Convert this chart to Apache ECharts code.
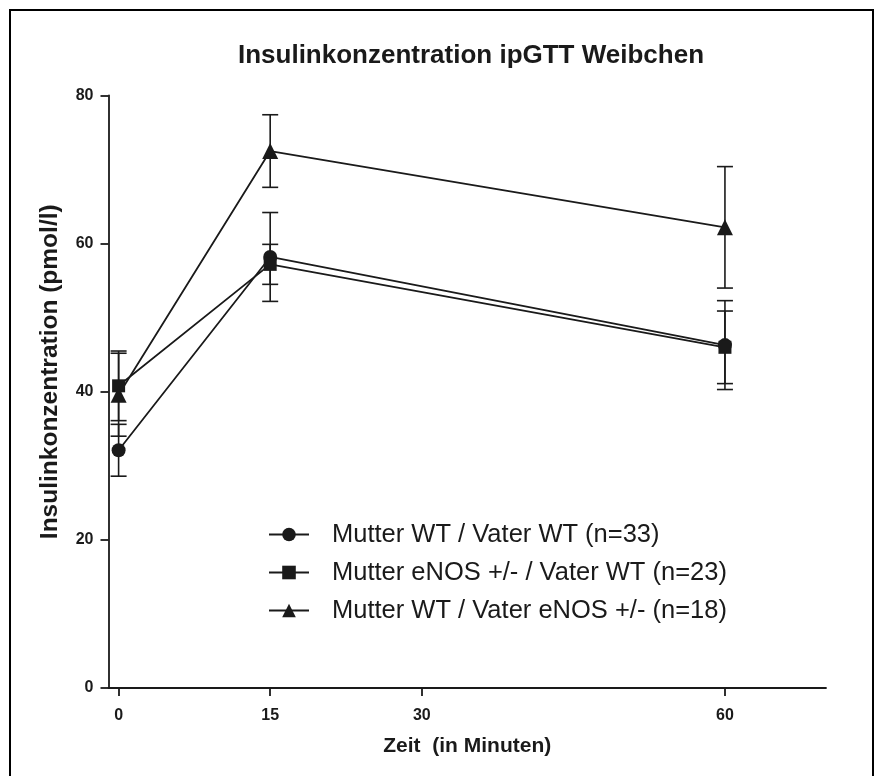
<!DOCTYPE html>
<html>
<head>
<meta charset="utf-8">
<script src="https://cdn.jsdelivr.net/npm/echarts@6/dist/echarts.min.js"></script>
<style>
html,body{margin:0;padding:0;background:#fff;}
#chart{width:882px;height:776px;}
</style>
</head>
<body>
<div id="chart"></div>
<script>
// ---- data ----
const titleText = 'Insulinkonzentration ipGTT Weibchen';
const xName = 'Zeit  (in Minuten)';
const yName = 'Insulinkonzentration (pmol/l)';
const times = [0, 15, 60];
const xTicks = [0, 15, 30, 60];
const yTicks = [0, 20, 40, 60, 80];
const seriesNames = [
  'Mutter WT / Vater WT (n=33)',
  'Mutter eNOS +/- / Vater WT (n=23)',
  'Mutter WT / Vater eNOS +/- (n=18)'
];
const seriesSymbols = ['circle', 'rect', 'triangle'];
const circleMean = [32.1, 58.2, 46.3];
const circleSem = [3.5, 6.0, 6.0];
const squareMean = [40.8, 57.2, 46.0];
const squareSem = [4.7, 2.7, 4.9];
const triangleMean = [39.6, 72.5, 62.2];
const triangleSem = [5.6, 4.9, 8.2];

const means = [circleMean, squareMean, triangleMean];
const sems = [circleSem, squareSem, triangleSem];
const symbolSizes = [14, 13, 16];
const ink = '#1a1a1a';
const font = '"Liberation Sans", Arial, sans-serif';

const chart = echarts.init(document.getElementById('chart'));

const lineSeries = seriesNames.map((name, i) => ({
  name: name,
  type: 'line',
  data: times.map((t, j) => [t, means[i][j]]),
  symbol: seriesSymbols[i],
  symbolSize: symbolSizes[i],
  color: ink,
  lineStyle: { color: ink, width: 1.8 },
  itemStyle: { color: ink },
  z: 3
}));

const errSeries = seriesNames.map((name, i) => ({
  name: name + ' SEM',
  type: 'custom',
  data: times.map((t, j) => [t, means[i][j] - sems[i][j], means[i][j] + sems[i][j]]),
  renderItem: function (params, api) {
    const lo = api.coord([api.value(0), api.value(1)]);
    const hi = api.coord([api.value(0), api.value(2)]);
    const hw = 8;
    const st = { stroke: ink, lineWidth: 1.6 };
    return {
      type: 'group',
      children: [
        { type: 'line', shape: { x1: lo[0], y1: lo[1], x2: hi[0], y2: hi[1] }, style: st },
        { type: 'line', shape: { x1: lo[0] - hw, y1: lo[1], x2: lo[0] + hw, y2: lo[1] }, style: st },
        { type: 'line', shape: { x1: hi[0] - hw, y1: hi[1], x2: hi[0] + hw, y2: hi[1] }, style: st }
      ]
    };
  },
  z: 2
}));

const option = {
  backgroundColor: '#fff',
  animation: false,
  color: [ink, ink, ink],
  title: {
    text: titleText,
    left: 466,
    top: 38,
    textAlign: 'center',
    textStyle: { fontFamily: font, fontSize: 26, fontWeight: 'bold', color: ink }
  },
  legend: {
    data: seriesNames,
    orient: 'vertical',
    left: 263,
    top: 515,
    itemWidth: 40,
    itemHeight: 17,
    itemGap: 9,
    textStyle: { fontFamily: font, fontSize: 25.5, color: ink, lineHeight: 29, padding: [0, 0, 0, 18] }
  },
  grid: { left: 108.5, right: 56, top: 95.5, bottom: 88, containLabel: false },
  xAxis: {
    type: 'value',
    min: -1,
    max: 70,
    name: xName,
    nameLocation: 'middle',
    nameGap: 48,
    nameTextStyle: { fontFamily: font, fontSize: 21, fontWeight: 'bold', color: ink },
    axisLine: { onZero: false, lineStyle: { color: ink, width: 1.8 } },
    axisTick: { customValues: xTicks, length: 8, lineStyle: { color: ink, width: 1.8 } },
    axisLabel: { customValues: xTicks, margin: 20, fontFamily: font, fontSize: 16, fontWeight: 'bold', color: ink },
    splitLine: { show: false }
  },
  yAxis: {
    type: 'value',
    min: 0,
    max: 80,
    interval: 20,
    name: yName,
    nameLocation: 'middle',
    nameGap: 46,
    nameTextStyle: { fontFamily: font, fontSize: 24.5, fontWeight: 'bold', color: ink, padding: [0, 0, 0, 40] },
    axisLine: { show: true, onZero: false, lineStyle: { color: ink, width: 1.8 } },
    axisTick: { show: true, length: 8, lineStyle: { color: ink, width: 1.8 } },
    axisLabel: { margin: 15, fontFamily: font, fontSize: 16, fontWeight: 'bold', color: ink,
      formatter: function (v) { return yTicks.indexOf(v) >= 0 ? String(v) : ''; } },
    splitLine: { show: false }
  },
  graphic: [{
    type: 'polyline',
    shape: { points: [[10, 776], [10, 10], [873, 10], [873, 776]] },
    style: { stroke: '#000', lineWidth: 2, fill: null },
    silent: true
  }],
  series: errSeries.concat(lineSeries)
};
chart.setOption(option);
</script>
</body>
</html>
